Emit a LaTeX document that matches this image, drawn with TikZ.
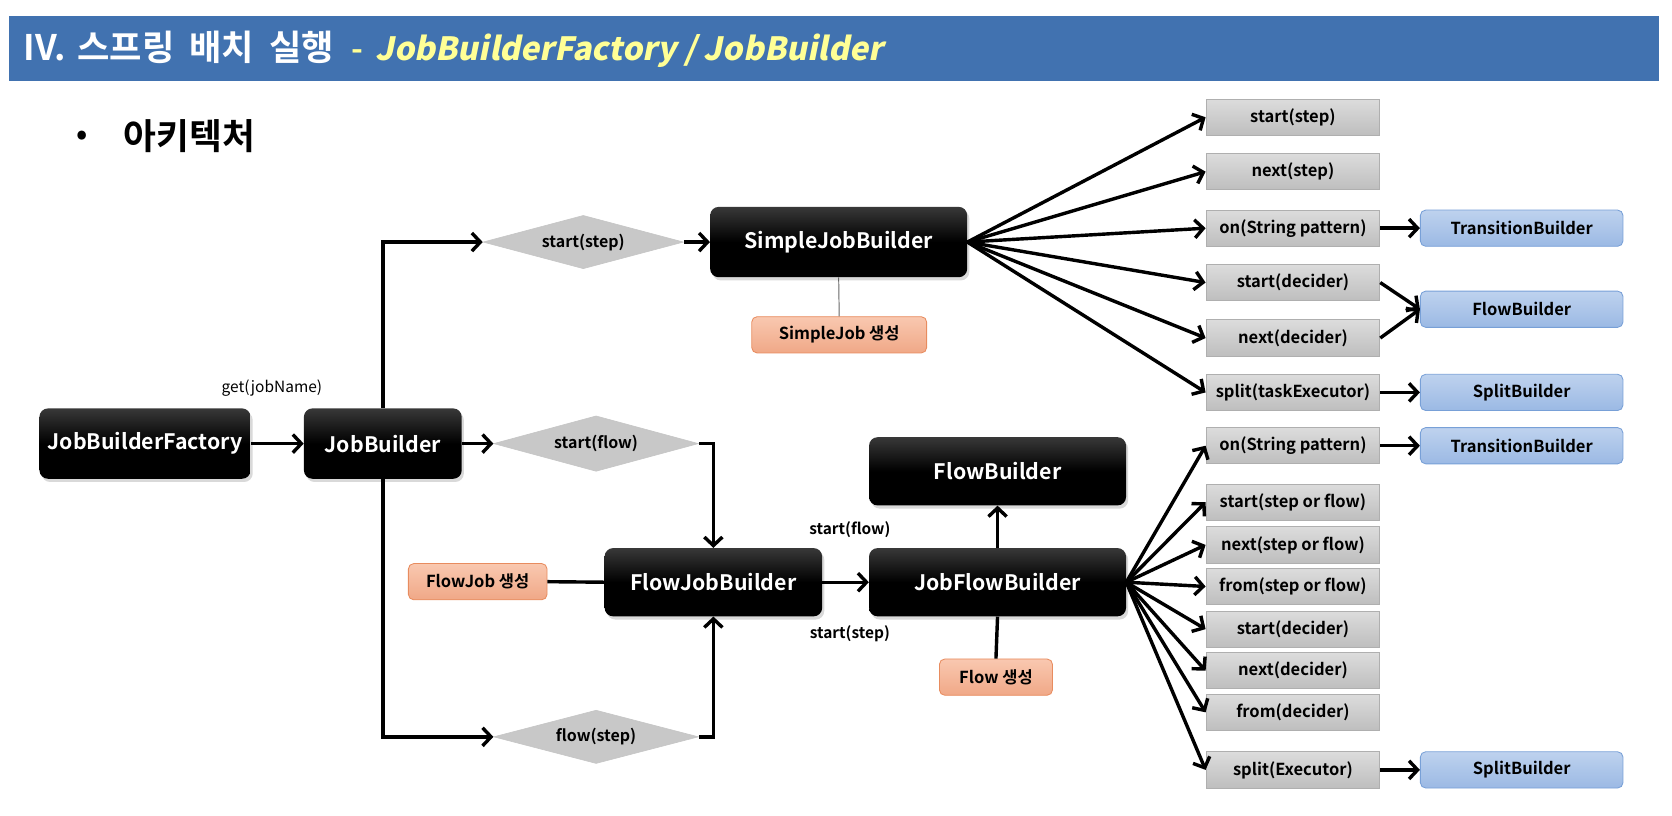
\documentclass[tikz,border=0pt]{standalone}
\usepackage{fontspec}
\setmainfont{Noto Sans CJK KR}[BoldFont={Noto Sans CJK KR Bold}]
\newfontfamily\slantfont{Noto Sans CJK KR Bold}[FakeSlant=0.2]
\usetikzlibrary{shapes.geometric,arrows.meta,shadows}
\definecolor{barblue}{RGB}{65,114,176}
\definecolor{titleyellow}{RGB}{255,255,150}
\definecolor{gtop}{RGB}{220,220,220}
\definecolor{gbot}{RGB}{190,190,190}
\definecolor{gline}{RGB}{175,175,175}
\definecolor{btop}{RGB}{190,210,238}
\definecolor{bbot}{RGB}{155,185,228}
\definecolor{bline}{RGB}{120,160,215}
\definecolor{otop}{RGB}{249,200,176}
\definecolor{obot}{RGB}{240,168,135}
\definecolor{oline}{RGB}{232,140,95}
\definecolor{dfill}{RGB}{200,200,200}
\tikzset{
  blk/.style={rectangle, rounded corners=8pt, top color=black!78!white, bottom color=black, middle color=black,
    draw=none, text=white, font=\bfseries\fontsize{20}{24}\selectfont, inner sep=0pt,
    drop shadow={shadow xshift=2pt, shadow yshift=-3pt, opacity=0.3}},
  dia/.style={diamond, shape aspect=3.76, fill=dfill, draw=gray!45, line width=0.6pt, inner sep=0pt,
    font=\bfseries\fontsize{15}{18}\selectfont},
  gbox/.style={rectangle, top color=gtop, bottom color=gbot, draw=gline, line width=0.8pt,
    minimum width=163pt, minimum height=34pt, inner sep=0pt, font=\bfseries\fontsize{15.5}{18}\selectfont},
  bbox/.style={rectangle, rounded corners=5pt, top color=btop, bottom color=bbot, draw=bline, line width=0.8pt,
    minimum width=190pt, minimum height=34pt, inner sep=0pt, font=\bfseries\fontsize{15.5}{18}\selectfont},
  obox/.style={rectangle, rounded corners=5pt, top color=otop, bottom color=obot, draw=oline, line width=0.8pt,
    minimum height=34pt, inner sep=0pt, font=\bfseries\fontsize{15.5}{18}\selectfont},
  arr/.style={line width=3.2pt, -{Straight Barb[length=8pt, width=17pt]}},
  con/.style={line width=3.2pt},
  thin/.style={line width=0.9pt, draw=gray!80!black},
  lbl/.style={font=\fontsize{14.5}{17}\selectfont, inner sep=0pt},
  blbl/.style={font=\bfseries\fontsize{14.5}{17}\selectfont, inner sep=0pt}
}
\begin{document}
\begin{tikzpicture}[x=1pt,y=-1pt]
\useasboundingbox (0,0) rectangle (1568,765);
% title bar
\fill[barblue] (8,15) rectangle (1556,76);
\node[anchor=west, inner sep=0pt] (title) at (22,46.5)
  {\textcolor{white}{\bfseries\fontsize{33}{36}\selectfont IV.\hspace{11pt}스프링\hspace{14pt}배치\hspace{14pt}실행}\hspace{17pt}\textcolor{titleyellow}{\bfseries\fontsize{30}{36}\selectfont -\hspace{11pt}{\slantfont JobBuilderFactory / JobBuilder}}};
\node[anchor=center, inner sep=0pt, font=\bfseries\fontsize{28}{32}\selectfont] (bullet) at (77,129) {•};
\node[anchor=west, inner sep=0pt, font=\bfseries\fontsize{33.5}{38}\selectfont] (arch) at (116,128) {아키텍처};

% black builders
\node[blk, minimum width=198pt, minimum height=66pt] (jbf) at (136,416) {JobBuilderFactory};
\node[blk, minimum width=148pt, minimum height=66pt] (jb) at (359,416) {JobBuilder};
\node[blk, minimum width=241pt, minimum height=66pt] (sjb) at (786.5,227) {SimpleJobBuilder};
\node[blk, minimum width=204pt, minimum height=64pt] (fjb) at (669,546) {FlowJobBuilder};
\node[blk, minimum width=241pt, minimum height=64pt] (jfb) at (935.5,546) {JobFlowBuilder};
\node[blk, minimum width=241pt, minimum height=64pt] (fbk) at (935.5,442) {FlowBuilder};

% diamonds
\node[dia, minimum width=188pt, minimum height=50pt] (d1) at (547,227) {start(step)};
\node[dia, minimum width=192pt, minimum height=52pt] (d2) at (559,416) {start(flow)};
\node[dia, minimum width=192pt, minimum height=50pt] (d3) at (559,691) {flow(step)};

% orange
\node[obox, minimum width=164pt] (o1) at (787,314) {SimpleJob 생성};
\node[obox, minimum width=130pt] (o2) at (448,545.5) {FlowJob 생성};
\node[obox, minimum width=106pt] (o3) at (934,635) {Flow 생성};

% labels
\node[lbl] (getlbl) at (255,364) {get(jobName)};
\node[blbl] (sflbl) at (797,497) {start(flow)};
\node[blbl] (sslbl) at (797,594) {start(step)};

% gray method boxes top
\node[gbox] (a1) at (1212.5,110) {start(step)};
\node[gbox] (a2) at (1212.5,161) {next(step)};
\node[gbox] (a3) at (1212.5,214) {on(String pattern)};
\node[gbox] (a4) at (1212.5,265) {start(decider)};
\node[gbox] (a5) at (1212.5,317) {next(decider)};
\node[gbox] (a6) at (1212.5,368) {split(taskExecutor)};
% gray method boxes bottom
\node[gbox] (b1) at (1212.5,418) {on(String pattern)};
\node[gbox] (b2) at (1212.5,471) {start(step or flow)};
\node[gbox] (b3) at (1212.5,511) {next(step or flow)};
\node[gbox] (b4) at (1212.5,550) {from(step or flow)};
\node[gbox] (b5) at (1212.5,590) {start(decider)};
\node[gbox] (b6) at (1212.5,629) {next(decider)};
\node[gbox] (b7) at (1212.5,668) {from(decider)};
\node[gbox] (b8) at (1212.5,722) {split(Executor)};

% blue boxes
\node[bbox] (t1) at (1427,214) {TransitionBuilder};
\node[bbox] (f1) at (1427,290) {FlowBuilder};
\node[bbox] (s1) at (1427,368) {SplitBuilder};
\node[bbox] (t2) at (1427,418) {TransitionBuilder};
\node[bbox] (s2) at (1427,722) {SplitBuilder};

% connectors
\draw[arr] (jbf) -- (jb);
\draw[arr] (jb) -- (d2);
\draw[arr] (jb.north) |- (d1.west);
\draw[arr] (jb.south) |- (d3.west);
\draw[arr] (d1) -- (sjb);
\draw[thin] (sjb.south) -- (o1.north);
\draw[arr] (d2.east) -| (fjb.north);
\draw[arr] (d3.east) -| (fjb.south);
\draw[con] (o2.east) -- (fjb.west);
\draw[arr] (fjb) -- (jfb);
\draw[arr] (jfb) -- (fbk);
\draw[con] (o3.north) -- (jfb.south);

\foreach \n in {a1,a2,a3,a4,a5,a6} \draw[arr] (sjb.east) -- (\n.west);
\foreach \n in {b1,b2,b3,b4,b5,b6,b7,b8} \draw[arr] (jfb.east) -- (\n.west);

\draw[arr] (a3) -- (t1);
\draw[arr] (a4.east) -- (f1.west);
\draw[arr] (a5.east) -- (f1.west);
\draw[arr] (a6) -- (s1);
\draw[arr] (b1) -- (t2);
\draw[arr] (b8) -- (s2);
\end{tikzpicture}
\end{document}
